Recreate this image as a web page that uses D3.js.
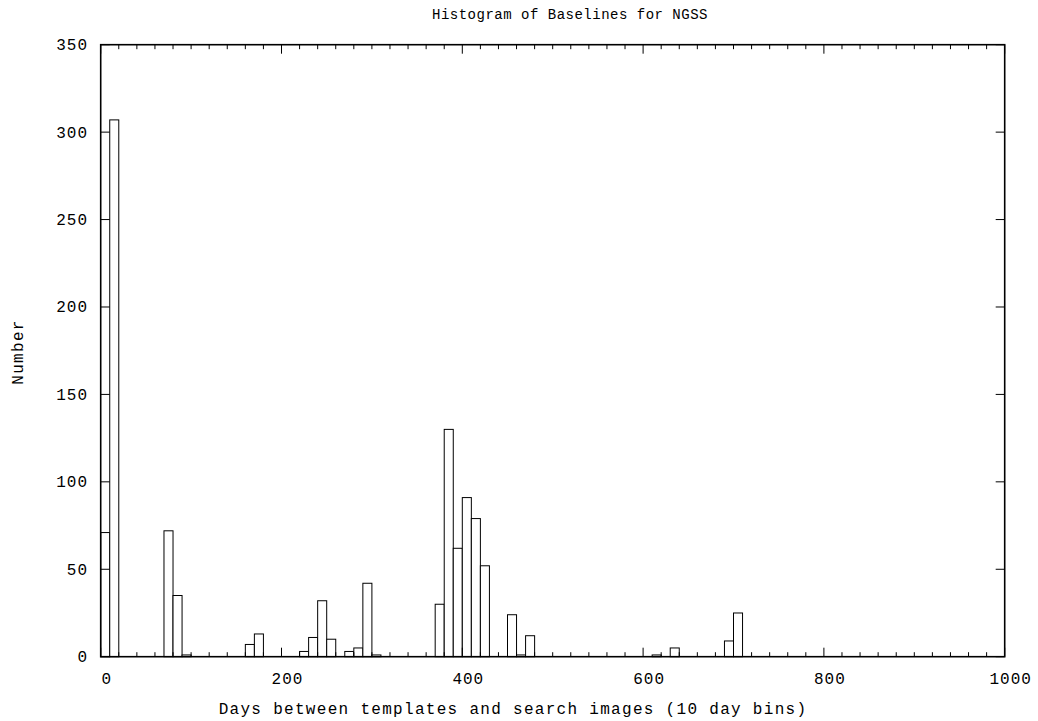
<!DOCTYPE html>
<html>
<head>
<meta charset="utf-8">
<script src="https://cdn.jsdelivr.net/npm/d3@7"></script>
<style>
  html, body { margin: 0; padding: 0; background: #fff; }
  svg text { font-family: "Liberation Mono", "DejaVu Sans Mono", monospace; fill: #000; }
</style>
</head>
<body>
<svg id="chart" width="1038" height="721"></svg>
<script>
// Histogram of baselines, 10-day bins (bin start in days, count per bin)
const binStarts = [0, 10, 70, 80, 90, 160, 170, 220, 230, 240, 250, 270, 280, 290, 300,
                   370, 380, 390, 400, 410, 420, 450, 460, 470, 610, 630, 690, 700];
const counts    = [71, 307, 72, 35, 1, 7, 13, 3, 11, 32, 10, 3, 5, 42, 1,
                   30, 130, 62, 91, 79, 52, 24, 1, 12, 1, 5, 9, 25];
const binWidth = 10;

const xTicks = [0, 200, 400, 600, 800, 1000];
const yTicks = [0, 50, 100, 150, 200, 250, 300, 350];

const titleText = "Histogram of Baselines for NGSS";
const xLabel = "Days between templates and search images (10 day bins)";
const yLabel = "Number";

const svg = d3.select("#chart");
const plotL = 100.7, plotR = 1004.7, plotT = 44.7, plotB = 656.7;

const x = d3.scaleLinear().domain([0, 1000]).range([plotL, plotR]);
const y = d3.scaleLinear().domain([0, 350]).range([plotB, plotT]);

// bars
svg.append("g")
  .selectAll("rect")
  .data(binStarts.map((b, i) => ({ b, c: counts[i] })))
  .join("rect")
  .attr("x", d => x(d.b))
  .attr("width", d => x(d.b + binWidth) - x(d.b))
  .attr("y", d => y(d.c))
  .attr("height", d => y(0) - y(d.c))
  .attr("fill", "#fff")
  .attr("stroke", "#000")
  .attr("stroke-width", 1);

// ticks: bottom/top with minor ticks every 20 days, left/right at every 50
const minor = d3.range(20, 1000, 20).filter(v => v % 200 !== 0);
const tickG = svg.append("g").attr("stroke", "#000").attr("stroke-width", 1);
minor.forEach(v => {
  tickG.append("line").attr("x1", x(v)).attr("x2", x(v)).attr("y1", plotB).attr("y2", plotB - 4.5);
  tickG.append("line").attr("x1", x(v)).attr("x2", x(v)).attr("y1", plotT).attr("y2", plotT + 4.5);
});
xTicks.forEach(v => {
  tickG.append("line").attr("x1", x(v)).attr("x2", x(v)).attr("y1", plotB).attr("y2", plotB - 9);
  tickG.append("line").attr("x1", x(v)).attr("x2", x(v)).attr("y1", plotT).attr("y2", plotT + 9);
});
yTicks.forEach(v => {
  tickG.append("line").attr("x1", plotL).attr("x2", plotL + 9).attr("y1", y(v)).attr("y2", y(v));
  tickG.append("line").attr("x1", plotR).attr("x2", plotR - 9).attr("y1", y(v)).attr("y2", y(v));
});

// frame
svg.append("rect")
  .attr("x", plotL).attr("y", plotT)
  .attr("width", plotR - plotL).attr("height", plotB - plotT)
  .attr("fill", "none").attr("stroke", "#000").attr("stroke-width", 1.6);

// tick labels
svg.append("g").selectAll("text").data(xTicks).join("text")
  .attr("x", d => x(d) + 6)
  .attr("y", 684)
  .attr("text-anchor", "middle")
  .attr("font-size", 16)
  .attr("letter-spacing", 1)
  .text(d => d);

svg.append("g").selectAll("text").data(yTicks).join("text")
  .attr("x", 88)
  .attr("y", d => y(d) + 5.5)
  .attr("text-anchor", "end")
  .attr("font-size", 16)
  .attr("letter-spacing", 1)
  .text(d => d);

// titles
svg.append("text")
  .attr("x", 570).attr("y", 19)
  .attr("text-anchor", "middle")
  .attr("font-size", 14)
  .attr("letter-spacing", 0.5)
  .text(titleText);

svg.append("text")
  .attr("x", 513).attr("y", 714)
  .attr("text-anchor", "middle")
  .attr("font-size", 16)
  .attr("letter-spacing", 1.3)
  .text(xLabel);

svg.append("text")
  .attr("transform", "translate(23,352) rotate(-90)")
  .attr("text-anchor", "middle")
  .attr("font-size", 16)
  .attr("letter-spacing", 1.3)
  .text(yLabel);
</script>
</body>
</html>
